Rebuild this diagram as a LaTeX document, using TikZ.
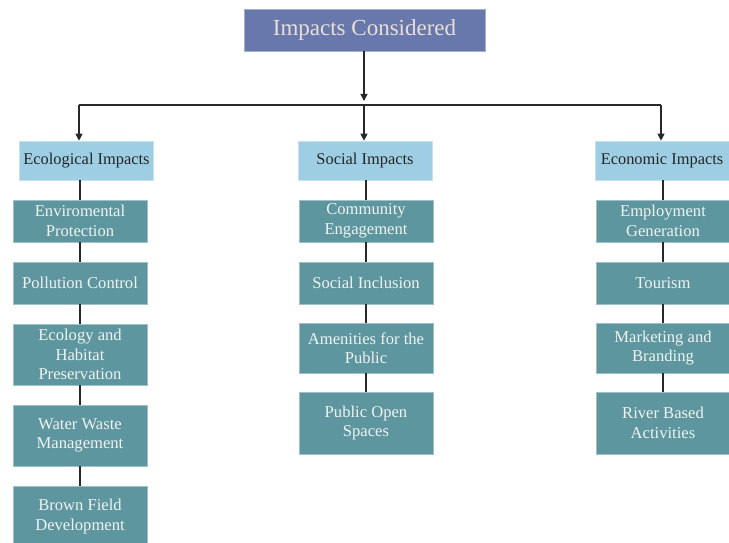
\documentclass[tikz,border=0pt]{standalone}
\usepackage{fontspec}
\setmainfont{Liberation Serif}
\usetikzlibrary{arrows.meta}
\definecolor{topfill}{RGB}{104,120,172}
\definecolor{toptext}{RGB}{232,224,214}
\definecolor{headfill}{RGB}{158,206,228}
\definecolor{headtext}{RGB}{38,38,38}
\definecolor{childfill}{RGB}{94,150,160}
\definecolor{childtext}{RGB}{238,243,240}
\definecolor{linecol}{RGB}{40,40,40}
\begin{document}
\begin{tikzpicture}[x=1pt,y=-1pt,
  topbox/.style={fill=topfill,draw=topfill!60!white,line width=0.6pt,text=toptext,inner sep=0pt,
    minimum width=241,minimum height=42,font=\fontsize{23}{26}\selectfont},
  headbox/.style={fill=headfill,draw=headfill!60!white,line width=0.6pt,text=headtext,inner sep=0pt,
    minimum width=134,minimum height=39,font=\fontsize{16.4}{19}\selectfont},
  childbox/.style={fill=childfill,draw=childfill!60!white,line width=0.6pt,text=childtext,inner sep=0pt,
    minimum width=134,align=center,font=\fontsize{16.6}{19.5}\selectfont},
  conn/.style={draw=linecol,line width=1.1pt},
  arr/.style={conn,-{Triangle[length=7pt,width=7pt]}}]
\useasboundingbox (0,0) rectangle (729,543);
\begin{scope}
\clip (0,0) rectangle (729,543);
% top
\node[topbox] (top) at (364.5,30) {Impacts Considered};
% headers
\node[headbox] (eco) at (86.5,160.5) {Ecological Impacts};
\node[headbox] (soc) at (365,160.5) {Social Impacts};
\node[headbox] (ecn) at (662,160.5) {Economic Impacts};
% left column
\node[childbox,minimum height=42] (l1) at (80,221) {Enviromental\\Protection};
\node[childbox,minimum height=42] (l2) at (80,283) {Pollution Control};
\node[childbox,minimum height=61] (l3) at (80,354.5) {Ecology and\\Habitat\\Preservation};
\node[childbox,minimum height=61] (l4) at (80,435.5) {Water Waste\\Management};
\node[childbox,minimum height=61] (l5) at (80,516.5) {Brown Field\\Development};
% middle column
\node[childbox,minimum height=42] (m1) at (366,221) {Community\\Engagement};
\node[childbox,minimum height=42] (m2) at (366,283) {Social Inclusion};
\node[childbox,minimum height=50] (m3) at (366,348) {Amenities for the\\Public};
\node[childbox,minimum height=62] (m4) at (366,423) {Public Open\\Spaces};
% right column
\node[childbox,minimum height=42] (r1) at (663,221) {Employment\\Generation};
\node[childbox,minimum height=42] (r2) at (663,283) {Tourism};
\node[childbox,minimum height=50] (r3) at (663,348) {Marketing and\\Branding};
\node[childbox,minimum height=62] (r4) at (663,423) {River Based\\Activities};
\end{scope}
% junctions
\coordinate (jl) at (79,105);
\coordinate (jm) at (364,105);
\coordinate (jr) at (661,105);
\coordinate (jt) at (364,101);
\draw[arr] (top.south -| jm) -- (jt);
\draw[conn] (jl) -- (jr);
\draw[arr] (jl) -- (jl |- eco.north);
\draw[arr] (jm) -- (jm |- soc.north);
\draw[arr] (jr) -- (jr |- ecn.north);
% vertical connectors
\draw[conn] (eco.south -| l1.north) -- (l1.north);
\foreach \a/\b in {l1/l2,l2/l3,l3/l4,l4/l5,m1/m2,m2/m3,m3/m4,r1/r2,r2/r3,r3/r4} {
  \draw[conn] (\a.south) -- (\b.north);
}
\draw[conn] (soc.south -| m1.north) -- (m1.north);
\draw[conn] (ecn.south -| r1.north) -- (r1.north);
\end{tikzpicture}
\end{document}
